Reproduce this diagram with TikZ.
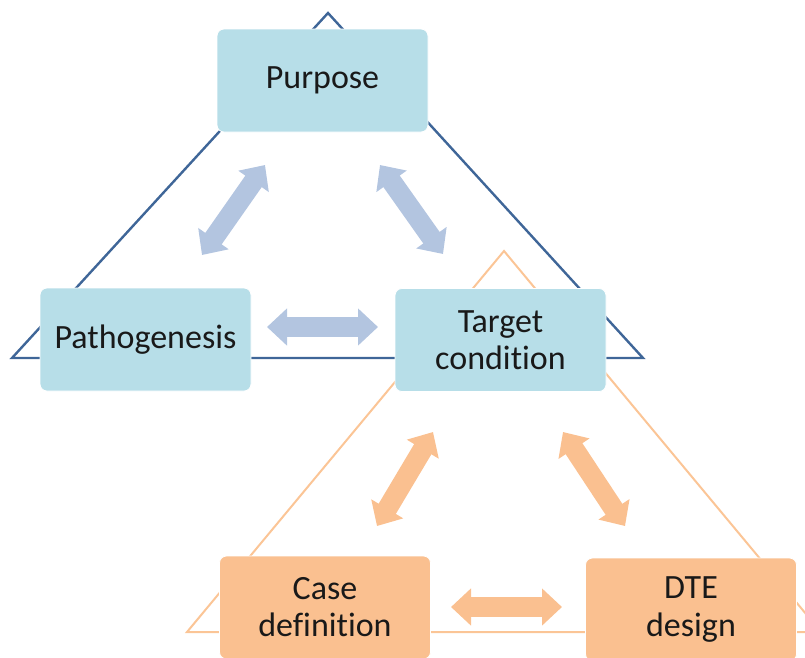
\documentclass[tikz,border=0pt]{standalone}
\usepackage{fontspec}
\setmainfont{Carlito}[Ligatures=NoCommon]
\usetikzlibrary{arrows.meta}
\definecolor{boxblue}{HTML}{B7DEE8}
\definecolor{boxorange}{HTML}{FAC090}
\definecolor{arrblue}{HTML}{B3C5E0}
\definecolor{arrorange}{HTML}{FAC090}
\definecolor{lineblue}{HTML}{3F6698}
\definecolor{lineorange}{HTML}{FBC596}
\begin{document}
\begin{tikzpicture}[x=1pt,y=-1pt,
  box/.style={rounded corners=7pt, minimum width=211pt, minimum height=103pt,
    draw=white, line width=0.8pt, align=center, inner sep=0pt,
    font=\fontsize{34}{37}\selectfont, text=black!90},
  bluebox/.style={box, fill=boxblue},
  orangebox/.style={box, fill=boxorange},
  dblarrow/.style={line width=20pt,
    {Triangle[length=20pt,width=36pt]}-{Triangle[length=20pt,width=36pt]}},
  bluetri/.style={draw=lineblue, line width=2.4pt, line join=miter},
  orangetri/.style={draw=lineorange, line width=2pt, line join=miter}]
\useasboundingbox (0,0) rectangle (805,657);
\clip (0,0) rectangle (805,657);
% triangles
\coordinate (bA) at (328,13);
\coordinate (bL) at (12,358);
\coordinate (bR) at (643,358);
\coordinate (oA) at (504,251);
\coordinate (oL) at (187,632);
\coordinate (oR) at (821,632);
\draw[bluetri] (bA) -- (bL) -- (bR) -- cycle;
\draw[orangetri] (oA) -- (oL) -- (oR) -- cycle;
% boxes
\node[bluebox] (purpose) at (322.5,80.5) {Purpose};
\node[bluebox] (patho) at (145.5,339.5) {Pathogenesis};
\node[bluebox] (target) at (500.5,340) {Target\\condition};
\node[orangebox] (case) at (325,607.5) {Case\\definition};
\node[orangebox] (dte) at (691,609.5) {DTE\\design};
% arrow tips
\coordinate (a1s) at (265,165); \coordinate (a1e) at (202,255);
\coordinate (a2s) at (380,165); \coordinate (a2e) at (443,254);
\coordinate (a3s) at (267,327); \coordinate (a3e) at (378,327);
\coordinate (a4s) at (433,432); \coordinate (a4e) at (377,526);
\coordinate (a5s) at (563,432); \coordinate (a5e) at (625,526);
\coordinate (a6s) at (451,607); \coordinate (a6e) at (562,607);
\draw[dblarrow, arrblue] (a1s) -- (a1e);
\draw[dblarrow, arrblue] (a2s) -- (a2e);
\draw[dblarrow, arrblue] (a3s) -- (a3e);
\draw[dblarrow, arrorange] (a4s) -- (a4e);
\draw[dblarrow, arrorange] (a5s) -- (a5e);
\draw[dblarrow, arrorange] (a6s) -- (a6e);
\end{tikzpicture}
\end{document}
